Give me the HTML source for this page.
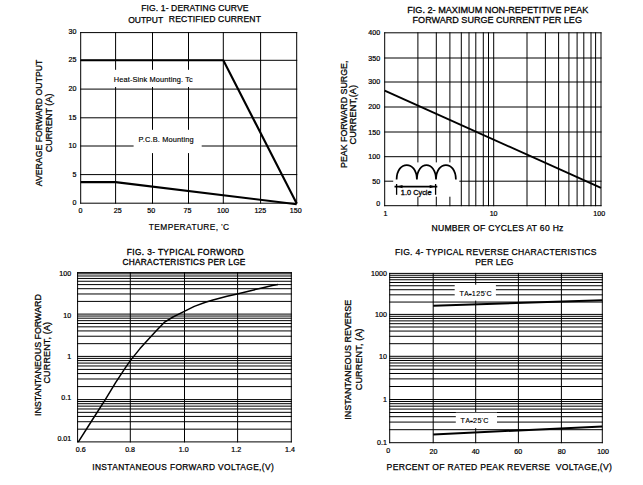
<!DOCTYPE html>
<html><head><meta charset="utf-8"><title>Charts</title>
<style>
html,body{margin:0;padding:0;background:#fff;}
body{width:643px;height:485px;overflow:hidden;position:relative;}
svg{position:absolute;left:0;top:0;display:block;}
text{font-family:"Liberation Sans",sans-serif;fill:#000;}
</style></head><body>
<svg width="643" height="485" viewBox="0 0 643 485">
<g id="g">
<line x1="80.7" y1="32.1" x2="80.7" y2="203.7" stroke="#000" stroke-width="1"/>
<line x1="115.6" y1="32.1" x2="115.6" y2="203.7" stroke="#000" stroke-width="1"/>
<line x1="152.5" y1="32.1" x2="152.5" y2="203.7" stroke="#000" stroke-width="1"/>
<line x1="188.5" y1="32.1" x2="188.5" y2="203.7" stroke="#000" stroke-width="1"/>
<line x1="223.3" y1="32.1" x2="223.3" y2="203.7" stroke="#000" stroke-width="1"/>
<line x1="260.6" y1="32.1" x2="260.6" y2="203.7" stroke="#000" stroke-width="1"/>
<line x1="296.7" y1="32.1" x2="296.7" y2="203.7" stroke="#000" stroke-width="1"/>
<line x1="80.2" y1="32.6" x2="297.2" y2="32.6" stroke="#000" stroke-width="1"/>
<line x1="80.2" y1="60.3" x2="297.2" y2="60.3" stroke="#000" stroke-width="1"/>
<line x1="80.2" y1="89.1" x2="297.2" y2="89.1" stroke="#000" stroke-width="1"/>
<line x1="80.2" y1="117.8" x2="297.2" y2="117.8" stroke="#000" stroke-width="1"/>
<line x1="80.2" y1="146" x2="297.2" y2="146" stroke="#000" stroke-width="1"/>
<line x1="80.2" y1="174.6" x2="297.2" y2="174.6" stroke="#000" stroke-width="1"/>
<line x1="80.2" y1="203.2" x2="297.2" y2="203.2" stroke="#000" stroke-width="1"/>
<rect x="110" y="69.8" width="88" height="17.2" fill="#fff"/>
<rect x="133.6" y="129.8" width="68.1" height="23.3" fill="#fff"/>
<polyline points="80.7,60.2 223.3,60.2 296.7,203.6" fill="none" stroke="#000" stroke-width="2.1" stroke-linejoin="round" stroke-linecap="butt"/>
<polyline points="80.7,182.1 115.6,182.1 296.7,204.2" fill="none" stroke="#000" stroke-width="2.1" stroke-linejoin="round" stroke-linecap="butt"/>
<line x1="384.7" y1="32.3" x2="384.7" y2="206.2" stroke="#000" stroke-width="1"/>
<line x1="417.9" y1="32.3" x2="417.9" y2="206.2" stroke="#000" stroke-width="1"/>
<line x1="436.3" y1="32.3" x2="436.3" y2="206.2" stroke="#000" stroke-width="1"/>
<line x1="449.9" y1="32.3" x2="449.9" y2="206.2" stroke="#000" stroke-width="1"/>
<line x1="461.3" y1="32.3" x2="461.3" y2="206.2" stroke="#000" stroke-width="1"/>
<line x1="469" y1="32.3" x2="469" y2="206.2" stroke="#000" stroke-width="1"/>
<line x1="475.8" y1="32.3" x2="475.8" y2="206.2" stroke="#000" stroke-width="1"/>
<line x1="483.3" y1="32.3" x2="483.3" y2="206.2" stroke="#000" stroke-width="1"/>
<line x1="488.5" y1="32.3" x2="488.5" y2="206.2" stroke="#000" stroke-width="1"/>
<line x1="493.7" y1="32.3" x2="493.7" y2="206.2" stroke="#000" stroke-width="1"/>
<line x1="527" y1="32.3" x2="527" y2="206.2" stroke="#000" stroke-width="1"/>
<line x1="545.4" y1="32.3" x2="545.4" y2="206.2" stroke="#000" stroke-width="1"/>
<line x1="558.6" y1="32.3" x2="558.6" y2="206.2" stroke="#000" stroke-width="1"/>
<line x1="568.9" y1="32.3" x2="568.9" y2="206.2" stroke="#000" stroke-width="1"/>
<line x1="577.1" y1="32.3" x2="577.1" y2="206.2" stroke="#000" stroke-width="1"/>
<line x1="583.8" y1="32.3" x2="583.8" y2="206.2" stroke="#000" stroke-width="1"/>
<line x1="591" y1="32.3" x2="591" y2="206.2" stroke="#000" stroke-width="1"/>
<line x1="595.6" y1="32.3" x2="595.6" y2="206.2" stroke="#000" stroke-width="1"/>
<line x1="601" y1="32.3" x2="601" y2="206.2" stroke="#000" stroke-width="1"/>
<line x1="384.2" y1="32.8" x2="601.5" y2="32.8" stroke="#000" stroke-width="1"/>
<line x1="384.2" y1="58" x2="601.5" y2="58" stroke="#000" stroke-width="1"/>
<line x1="384.2" y1="82" x2="601.5" y2="82" stroke="#000" stroke-width="1"/>
<line x1="384.2" y1="107" x2="601.5" y2="107" stroke="#000" stroke-width="1"/>
<line x1="384.2" y1="132" x2="601.5" y2="132" stroke="#000" stroke-width="1"/>
<line x1="384.2" y1="156.7" x2="601.5" y2="156.7" stroke="#000" stroke-width="1"/>
<line x1="384.2" y1="181.2" x2="601.5" y2="181.2" stroke="#000" stroke-width="1"/>
<line x1="384.2" y1="205.7" x2="601.5" y2="205.7" stroke="#000" stroke-width="1"/>
<polyline points="384.7,90.6 601,187.9" fill="none" stroke="#000" stroke-width="1.9" stroke-linejoin="round" stroke-linecap="butt"/>
<rect x="393.2" y="162.4" width="66.1" height="34.3" fill="#fff"/>
<line x1="77.6" y1="272.1" x2="77.6" y2="442.4" stroke="#000" stroke-width="1"/>
<line x1="130.3" y1="272.1" x2="130.3" y2="442.4" stroke="#000" stroke-width="1"/>
<line x1="184.5" y1="272.1" x2="184.5" y2="442.4" stroke="#000" stroke-width="1"/>
<line x1="237.6" y1="272.1" x2="237.6" y2="442.4" stroke="#000" stroke-width="1"/>
<line x1="291.3" y1="272.1" x2="291.3" y2="442.4" stroke="#000" stroke-width="1"/>
<line x1="77.1" y1="441.9" x2="291.8" y2="441.9" stroke="#000" stroke-width="1"/>
<line x1="77.1" y1="429.17" x2="291.8" y2="429.17" stroke="#000" stroke-width="1"/>
<line x1="77.1" y1="421.72" x2="291.8" y2="421.72" stroke="#000" stroke-width="1"/>
<line x1="77.1" y1="416.43" x2="291.8" y2="416.43" stroke="#000" stroke-width="1"/>
<line x1="77.1" y1="412.33" x2="291.8" y2="412.33" stroke="#000" stroke-width="1"/>
<line x1="77.1" y1="408.98" x2="291.8" y2="408.98" stroke="#000" stroke-width="1"/>
<line x1="77.1" y1="406.15" x2="291.8" y2="406.15" stroke="#000" stroke-width="1"/>
<line x1="77.1" y1="403.7" x2="291.8" y2="403.7" stroke="#000" stroke-width="1"/>
<line x1="77.1" y1="401.54" x2="291.8" y2="401.54" stroke="#000" stroke-width="1"/>
<line x1="77.1" y1="399.6" x2="291.8" y2="399.6" stroke="#000" stroke-width="1"/>
<line x1="77.1" y1="386.6" x2="291.8" y2="386.6" stroke="#000" stroke-width="1"/>
<line x1="77.1" y1="378.99" x2="291.8" y2="378.99" stroke="#000" stroke-width="1"/>
<line x1="77.1" y1="373.59" x2="291.8" y2="373.59" stroke="#000" stroke-width="1"/>
<line x1="77.1" y1="369.4" x2="291.8" y2="369.4" stroke="#000" stroke-width="1"/>
<line x1="77.1" y1="365.98" x2="291.8" y2="365.98" stroke="#000" stroke-width="1"/>
<line x1="77.1" y1="363.09" x2="291.8" y2="363.09" stroke="#000" stroke-width="1"/>
<line x1="77.1" y1="360.59" x2="291.8" y2="360.59" stroke="#000" stroke-width="1"/>
<line x1="77.1" y1="358.38" x2="291.8" y2="358.38" stroke="#000" stroke-width="1"/>
<line x1="77.1" y1="356.4" x2="291.8" y2="356.4" stroke="#000" stroke-width="1"/>
<line x1="77.1" y1="343.67" x2="291.8" y2="343.67" stroke="#000" stroke-width="1"/>
<line x1="77.1" y1="336.22" x2="291.8" y2="336.22" stroke="#000" stroke-width="1"/>
<line x1="77.1" y1="330.93" x2="291.8" y2="330.93" stroke="#000" stroke-width="1"/>
<line x1="77.1" y1="326.83" x2="291.8" y2="326.83" stroke="#000" stroke-width="1"/>
<line x1="77.1" y1="323.48" x2="291.8" y2="323.48" stroke="#000" stroke-width="1"/>
<line x1="77.1" y1="320.65" x2="291.8" y2="320.65" stroke="#000" stroke-width="1"/>
<line x1="77.1" y1="318.2" x2="291.8" y2="318.2" stroke="#000" stroke-width="1"/>
<line x1="77.1" y1="316.04" x2="291.8" y2="316.04" stroke="#000" stroke-width="1"/>
<line x1="77.1" y1="314.1" x2="291.8" y2="314.1" stroke="#000" stroke-width="1"/>
<line x1="77.1" y1="301.4" x2="291.8" y2="301.4" stroke="#000" stroke-width="1"/>
<line x1="77.1" y1="293.97" x2="291.8" y2="293.97" stroke="#000" stroke-width="1"/>
<line x1="77.1" y1="288.69" x2="291.8" y2="288.69" stroke="#000" stroke-width="1"/>
<line x1="77.1" y1="284.6" x2="291.8" y2="284.6" stroke="#000" stroke-width="1"/>
<line x1="77.1" y1="281.26" x2="291.8" y2="281.26" stroke="#000" stroke-width="1"/>
<line x1="77.1" y1="278.44" x2="291.8" y2="278.44" stroke="#000" stroke-width="1"/>
<line x1="77.1" y1="275.99" x2="291.8" y2="275.99" stroke="#000" stroke-width="1"/>
<line x1="77.1" y1="273.83" x2="291.8" y2="273.83" stroke="#000" stroke-width="1"/>
<line x1="77.1" y1="272.6" x2="291.8" y2="272.6" stroke="#000" stroke-width="1"/>
<polyline points="78.2,442.2 91.6,421 105.3,399.6 115.6,382.6 124.8,368.6 130.3,360.6 140,348.6 148.2,339.4 156.5,330.6 164.2,322.4 173,317 184.3,311.3 194.3,306.4 205.5,302.2 213,300 227,296.3 237.2,293.9 253.7,289.9 263,287.7 272.3,285.5 277.9,284.5" fill="none" stroke="#000" stroke-width="1.5" stroke-linejoin="round" stroke-linecap="butt"/>
<line x1="389.7" y1="272.9" x2="389.7" y2="443.2" stroke="#000" stroke-width="1"/>
<line x1="433.2" y1="272.9" x2="433.2" y2="443.2" stroke="#000" stroke-width="1"/>
<line x1="475.7" y1="272.9" x2="475.7" y2="443.2" stroke="#000" stroke-width="1"/>
<line x1="518.4" y1="272.9" x2="518.4" y2="443.2" stroke="#000" stroke-width="1"/>
<line x1="561.4" y1="272.9" x2="561.4" y2="443.2" stroke="#000" stroke-width="1"/>
<line x1="602.3" y1="272.9" x2="602.3" y2="443.2" stroke="#000" stroke-width="1"/>
<line x1="389.2" y1="442.7" x2="602.8" y2="442.7" stroke="#000" stroke-width="1"/>
<line x1="389.2" y1="429.7" x2="602.8" y2="429.7" stroke="#000" stroke-width="1"/>
<line x1="389.2" y1="422.09" x2="602.8" y2="422.09" stroke="#000" stroke-width="1"/>
<line x1="389.2" y1="416.69" x2="602.8" y2="416.69" stroke="#000" stroke-width="1"/>
<line x1="389.2" y1="412.5" x2="602.8" y2="412.5" stroke="#000" stroke-width="1"/>
<line x1="389.2" y1="409.08" x2="602.8" y2="409.08" stroke="#000" stroke-width="1"/>
<line x1="389.2" y1="406.19" x2="602.8" y2="406.19" stroke="#000" stroke-width="1"/>
<line x1="389.2" y1="403.69" x2="602.8" y2="403.69" stroke="#000" stroke-width="1"/>
<line x1="389.2" y1="401.48" x2="602.8" y2="401.48" stroke="#000" stroke-width="1"/>
<line x1="389.2" y1="399.5" x2="602.8" y2="399.5" stroke="#000" stroke-width="1"/>
<line x1="389.2" y1="386.5" x2="602.8" y2="386.5" stroke="#000" stroke-width="1"/>
<line x1="389.2" y1="378.89" x2="602.8" y2="378.89" stroke="#000" stroke-width="1"/>
<line x1="389.2" y1="373.49" x2="602.8" y2="373.49" stroke="#000" stroke-width="1"/>
<line x1="389.2" y1="369.3" x2="602.8" y2="369.3" stroke="#000" stroke-width="1"/>
<line x1="389.2" y1="365.88" x2="602.8" y2="365.88" stroke="#000" stroke-width="1"/>
<line x1="389.2" y1="362.99" x2="602.8" y2="362.99" stroke="#000" stroke-width="1"/>
<line x1="389.2" y1="360.49" x2="602.8" y2="360.49" stroke="#000" stroke-width="1"/>
<line x1="389.2" y1="358.28" x2="602.8" y2="358.28" stroke="#000" stroke-width="1"/>
<line x1="389.2" y1="356.3" x2="602.8" y2="356.3" stroke="#000" stroke-width="1"/>
<line x1="389.2" y1="343.69" x2="602.8" y2="343.69" stroke="#000" stroke-width="1"/>
<line x1="389.2" y1="336.31" x2="602.8" y2="336.31" stroke="#000" stroke-width="1"/>
<line x1="389.2" y1="331.07" x2="602.8" y2="331.07" stroke="#000" stroke-width="1"/>
<line x1="389.2" y1="327.01" x2="602.8" y2="327.01" stroke="#000" stroke-width="1"/>
<line x1="389.2" y1="323.7" x2="602.8" y2="323.7" stroke="#000" stroke-width="1"/>
<line x1="389.2" y1="320.89" x2="602.8" y2="320.89" stroke="#000" stroke-width="1"/>
<line x1="389.2" y1="318.46" x2="602.8" y2="318.46" stroke="#000" stroke-width="1"/>
<line x1="389.2" y1="316.32" x2="602.8" y2="316.32" stroke="#000" stroke-width="1"/>
<line x1="389.2" y1="314.4" x2="602.8" y2="314.4" stroke="#000" stroke-width="1"/>
<line x1="389.2" y1="302.06" x2="602.8" y2="302.06" stroke="#000" stroke-width="1"/>
<line x1="389.2" y1="294.84" x2="602.8" y2="294.84" stroke="#000" stroke-width="1"/>
<line x1="389.2" y1="289.72" x2="602.8" y2="289.72" stroke="#000" stroke-width="1"/>
<line x1="389.2" y1="285.74" x2="602.8" y2="285.74" stroke="#000" stroke-width="1"/>
<line x1="389.2" y1="282.5" x2="602.8" y2="282.5" stroke="#000" stroke-width="1"/>
<line x1="389.2" y1="279.75" x2="602.8" y2="279.75" stroke="#000" stroke-width="1"/>
<line x1="389.2" y1="277.37" x2="602.8" y2="277.37" stroke="#000" stroke-width="1"/>
<line x1="389.2" y1="275.28" x2="602.8" y2="275.28" stroke="#000" stroke-width="1"/>
<line x1="389.2" y1="273.4" x2="602.8" y2="273.4" stroke="#000" stroke-width="1"/>
<rect x="454.7" y="284.7" width="41.2" height="15.9" fill="#fff"/>
<rect x="455.8" y="412.7" width="41.2" height="15.5" fill="#fff"/>
<polyline points="433.2,305.7 602.3,300.2" fill="none" stroke="#000" stroke-width="2" stroke-linejoin="round" stroke-linecap="butt"/>
<polyline points="433.2,434.5 602.3,426.5" fill="none" stroke="#000" stroke-width="2" stroke-linejoin="round" stroke-linecap="butt"/>
<path d="M396.6,179.5 C396.8,160.2 416.7,160.2 416.9,179.5 C417.09,160.2 435.81,160.2 436,179.5 C436.2,160.2 455.7,160.2 455.9,179.5 " fill="none" stroke="#000" stroke-width="1.7"/>
<line x1="394.5" y1="186.6" x2="437.3" y2="186.6" stroke="#000" stroke-width="1.8"/>
<line x1="396.6" y1="184.0" x2="396.6" y2="194.8" stroke="#000" stroke-width="1.3"/>
<line x1="435.6" y1="184.0" x2="435.6" y2="194.8" stroke="#000" stroke-width="1.3"/>
<path d="M397.2,186.6 L402.5,185.0 L402.5,188.2 Z" fill="#000"/>
<path d="M435.0,186.6 L429.7,185.0 L429.7,188.2 Z" fill="#000"/>
</g>
<g id="tx">
<text id="t1a" x="141.2" y="10.9" font-size="8.6" stroke="#000" stroke-width="0.25" textLength="107.29" lengthAdjust="spacing">FIG. 1- DERATING CURVE</text>
<text id="t1b" x="128.2" y="22.6" font-size="8.6" stroke="#000" stroke-width="0.25" textLength="34.93" lengthAdjust="spacingAndGlyphs">OUTPUT</text>
<text id="t1c" x="168.8" y="21.8" font-size="8.6" stroke="#000" stroke-width="0.25" textLength="92.17" lengthAdjust="spacing">RECTIFIED CURRENT</text>
<text id="t2a" x="407.2" y="12.6" font-size="9.5" stroke="#000" stroke-width="0.28" textLength="181.22" lengthAdjust="spacingAndGlyphs">FIG. 2- MAXIMUM NON-REPETITIVE PEAK</text>
<text id="t2b" x="412.6" y="22.7" font-size="9.5" stroke="#000" stroke-width="0.28" textLength="169.34" lengthAdjust="spacingAndGlyphs">FORWARD SURGE CURRENT PER LEG</text>
<text id="t3a" x="126.8" y="254.5" font-size="8.3" stroke="#000" stroke-width="0.32" textLength="116.81" lengthAdjust="spacing">FIG. 3- TYPICAL FORWORD</text>
<text id="t3b" x="122.4" y="265" font-size="8.3" stroke="#000" stroke-width="0.32" textLength="123.02" lengthAdjust="spacing">CHARACTERISTICS PER LGE</text>
<text id="t4a" x="395" y="255.3" font-size="8.6" stroke="#000" stroke-width="0.25" textLength="201.5" lengthAdjust="spacing">FIG. 4- TYPICAL REVERSE CHARACTERISTICS</text>
<text id="t4b" x="475.2" y="265" font-size="8.6" stroke="#000" stroke-width="0.25" textLength="38.13" lengthAdjust="spacing">PER LEG</text>
<text id="x1" x="148.8" y="230.1" font-size="8.4" stroke="#000" stroke-width="0.18" textLength="80.19" lengthAdjust="spacing">TEMPERATURE, <tspan font-size="7" dy="-1">'</tspan><tspan dy="1">C</tspan></text>
<text id="x2" x="431.4" y="230.7" font-size="8.6" stroke="#000" stroke-width="0.25" textLength="132.02" lengthAdjust="spacing">NUMBER OF CYCLES AT 60 Hz</text>
<text id="x3" x="92.2" y="470.2" font-size="8.4" stroke="#000" stroke-width="0.25" textLength="181.57" lengthAdjust="spacing">INSTANTANEOUS FORWARD VOLTAGE,(V)</text>
<text id="x4" x="386.6" y="470.3" font-size="8.6" stroke="#000" stroke-width="0.25" textLength="225.34" lengthAdjust="spacing">PERCENT OF RATED PEAK REVERSE  VOLTAGE,(V)</text>
<text id="y1a" font-size="9.2" stroke="#000" stroke-width="0.28" textLength="126.58" lengthAdjust="spacingAndGlyphs" transform="translate(42.2,186.2) rotate(-90)">AVERAGE FORWARD OUTPUT</text>
<text id="y1b" font-size="9.2" stroke="#000" stroke-width="0.28" textLength="58.76" lengthAdjust="spacingAndGlyphs" transform="translate(52,152.3) rotate(-90)">CURRENT (A)</text>
<text id="y2a" font-size="9.2" stroke="#000" stroke-width="0.28" textLength="107.41" lengthAdjust="spacingAndGlyphs" transform="translate(347.4,168) rotate(-90)">PEAK FORWARD SURGE,</text>
<text id="y2b" font-size="9.2" stroke="#000" stroke-width="0.28" textLength="59.5" lengthAdjust="spacing" transform="translate(356,144.4) rotate(-90)">CURRENT,(A)</text>
<text id="y3a" font-size="9" stroke="#000" stroke-width="0.28" textLength="121.87" lengthAdjust="spacingAndGlyphs" transform="translate(40.6,416) rotate(-90)">INSTANTANEOUS FORWARD</text>
<text id="y3b" font-size="9" stroke="#000" stroke-width="0.28" textLength="61.6" lengthAdjust="spacing" transform="translate(50.3,383.5) rotate(-90)">CURRENT, (A)</text>
<text id="y4a" font-size="9" stroke="#000" stroke-width="0.28" textLength="119.89" lengthAdjust="spacingAndGlyphs" transform="translate(351,419.7) rotate(-90)">INSTANTANEOUS REVERSE</text>
<text id="y4b" font-size="9" stroke="#000" stroke-width="0.28" textLength="61.8" lengthAdjust="spacing" transform="translate(362,390.2) rotate(-90)">CURRENT, (A)</text>
<text id="l1" x="113.8" y="82" font-size="7.4" stroke="#000" stroke-width="0.15" textLength="78.88" lengthAdjust="spacing">Heat-Sink Mounting. Tc</text>
<text id="l2" x="138.6" y="142" font-size="7.4" stroke="#000" stroke-width="0.15" textLength="55.06" lengthAdjust="spacing">P.C.B. Mounting</text>
<text id="l3" x="400.8" y="195.1" font-size="7.4" stroke="#000" stroke-width="0.3" textLength="30.81" lengthAdjust="spacing">1.0 Cycle</text>
<text id="l4" x="459.4" y="295.9" font-size="7.2" stroke="#000" stroke-width="0.15" textLength="32.31" lengthAdjust="spacing">T<tspan font-size="6.6">A</tspan><tspan stroke-width="0.9">-</tspan>125<tspan font-size="5.5" dy="-0.8">'</tspan><tspan dy="0.8">C</tspan></text>
<text id="l5" x="460.6" y="422.9" font-size="7.2" stroke="#000" stroke-width="0.15" textLength="27.92" lengthAdjust="spacing">T<tspan font-size="6.6">A</tspan><tspan stroke-width="0.9">-</tspan>25<tspan font-size="5.5" dy="-0.8">'</tspan><tspan dy="0.8">C</tspan></text>
<text x="76.4" y="34.4" font-size="7.1" stroke="#000" stroke-width="0.22" text-anchor="end">30</text>
<text x="76.4" y="62.4" font-size="7.1" stroke="#000" stroke-width="0.22" text-anchor="end">25</text>
<text x="76.4" y="91.2" font-size="7.1" stroke="#000" stroke-width="0.22" text-anchor="end">20</text>
<text x="76.4" y="119.9" font-size="7.1" stroke="#000" stroke-width="0.22" text-anchor="end">15</text>
<text x="76.4" y="147.7" font-size="7.1" stroke="#000" stroke-width="0.22" text-anchor="end">10</text>
<text x="76.4" y="176.5" font-size="7.1" stroke="#000" stroke-width="0.22" text-anchor="end">5</text>
<text x="76.4" y="205.2" font-size="7.1" stroke="#000" stroke-width="0.22" text-anchor="end">0</text>
<text x="80.4" y="213.1" font-size="7.1" stroke="#000" stroke-width="0.22" text-anchor="middle">0</text>
<text x="117.8" y="213.1" font-size="7.1" stroke="#000" stroke-width="0.22" text-anchor="middle">25</text>
<text x="151.3" y="213.1" font-size="7.1" stroke="#000" stroke-width="0.22" text-anchor="middle">50</text>
<text x="187.5" y="213.1" font-size="7.1" stroke="#000" stroke-width="0.22" text-anchor="middle">75</text>
<text x="223" y="213.1" font-size="7.1" stroke="#000" stroke-width="0.22" text-anchor="middle">100</text>
<text x="260.3" y="213.1" font-size="7.1" stroke="#000" stroke-width="0.22" text-anchor="middle">125</text>
<text x="295.7" y="213.1" font-size="7.1" stroke="#000" stroke-width="0.22" text-anchor="middle">150</text>
<text x="380.1" y="35.1" font-size="7.1" stroke="#000" stroke-width="0.22" text-anchor="end">400</text>
<text x="380.1" y="60.5" font-size="7.1" stroke="#000" stroke-width="0.22" text-anchor="end">350</text>
<text x="380.1" y="83.6" font-size="7.1" stroke="#000" stroke-width="0.22" text-anchor="end">300</text>
<text x="380.1" y="108.9" font-size="7.1" stroke="#000" stroke-width="0.22" text-anchor="end">200</text>
<text x="380.1" y="134.7" font-size="7.1" stroke="#000" stroke-width="0.22" text-anchor="end">150</text>
<text x="380.1" y="159.1" font-size="7.1" stroke="#000" stroke-width="0.22" text-anchor="end">100</text>
<text x="380.1" y="183.6" font-size="7.1" stroke="#000" stroke-width="0.22" text-anchor="end">50</text>
<text x="380.1" y="206" font-size="7.1" stroke="#000" stroke-width="0.22" text-anchor="end">0</text>
<text x="385.4" y="215.9" font-size="7.1" stroke="#000" stroke-width="0.22" text-anchor="middle">1</text>
<text x="493.6" y="215.9" font-size="7.1" stroke="#000" stroke-width="0.22" text-anchor="middle">10</text>
<text x="599.2" y="215.9" font-size="7.1" stroke="#000" stroke-width="0.22" text-anchor="middle">100</text>
<text x="71.2" y="441.3" font-size="7.1" stroke="#000" stroke-width="0.22" text-anchor="end">0.01</text>
<text x="71.2" y="400.1" font-size="7.1" stroke="#000" stroke-width="0.22" text-anchor="end">0.1</text>
<text x="71.2" y="359.3" font-size="7.1" stroke="#000" stroke-width="0.22" text-anchor="end">1</text>
<text x="71.2" y="318.2" font-size="7.1" stroke="#000" stroke-width="0.22" text-anchor="end">10</text>
<text x="71.2" y="276.1" font-size="7.1" stroke="#000" stroke-width="0.22" text-anchor="end">100</text>
<text x="80.7" y="452.1" font-size="7.1" stroke="#000" stroke-width="0.22" text-anchor="middle">0.6</text>
<text x="130.1" y="452.1" font-size="7.1" stroke="#000" stroke-width="0.22" text-anchor="middle">0.8</text>
<text x="183.7" y="452.1" font-size="7.1" stroke="#000" stroke-width="0.22" text-anchor="middle">1.0</text>
<text x="236.3" y="452.1" font-size="7.1" stroke="#000" stroke-width="0.22" text-anchor="middle">1.2</text>
<text x="290" y="452.1" font-size="7.1" stroke="#000" stroke-width="0.22" text-anchor="middle">1.4</text>
<text x="386.9" y="445" font-size="7.1" stroke="#000" stroke-width="0.22" text-anchor="end">0.1</text>
<text x="386.9" y="401.8" font-size="7.1" stroke="#000" stroke-width="0.22" text-anchor="end">1</text>
<text x="386.9" y="358.8" font-size="7.1" stroke="#000" stroke-width="0.22" text-anchor="end">10</text>
<text x="386.9" y="317.4" font-size="7.1" stroke="#000" stroke-width="0.22" text-anchor="end">100</text>
<text x="386.9" y="276.2" font-size="7.1" stroke="#000" stroke-width="0.22" text-anchor="end">1000</text>
<text x="388.2" y="453.3" font-size="7.1" stroke="#000" stroke-width="0.22" text-anchor="middle">0</text>
<text x="433.4" y="454.1" font-size="7.1" stroke="#000" stroke-width="0.22" text-anchor="middle">20</text>
<text x="475.6" y="454.1" font-size="7.1" stroke="#000" stroke-width="0.22" text-anchor="middle">40</text>
<text x="518.3" y="454.1" font-size="7.1" stroke="#000" stroke-width="0.22" text-anchor="middle">60</text>
<text x="561.7" y="454.1" font-size="7.1" stroke="#000" stroke-width="0.22" text-anchor="middle">80</text>
<text x="603.1" y="454.1" font-size="7.1" stroke="#000" stroke-width="0.22" text-anchor="middle">100</text>
</g>
</svg>
</body></html>
